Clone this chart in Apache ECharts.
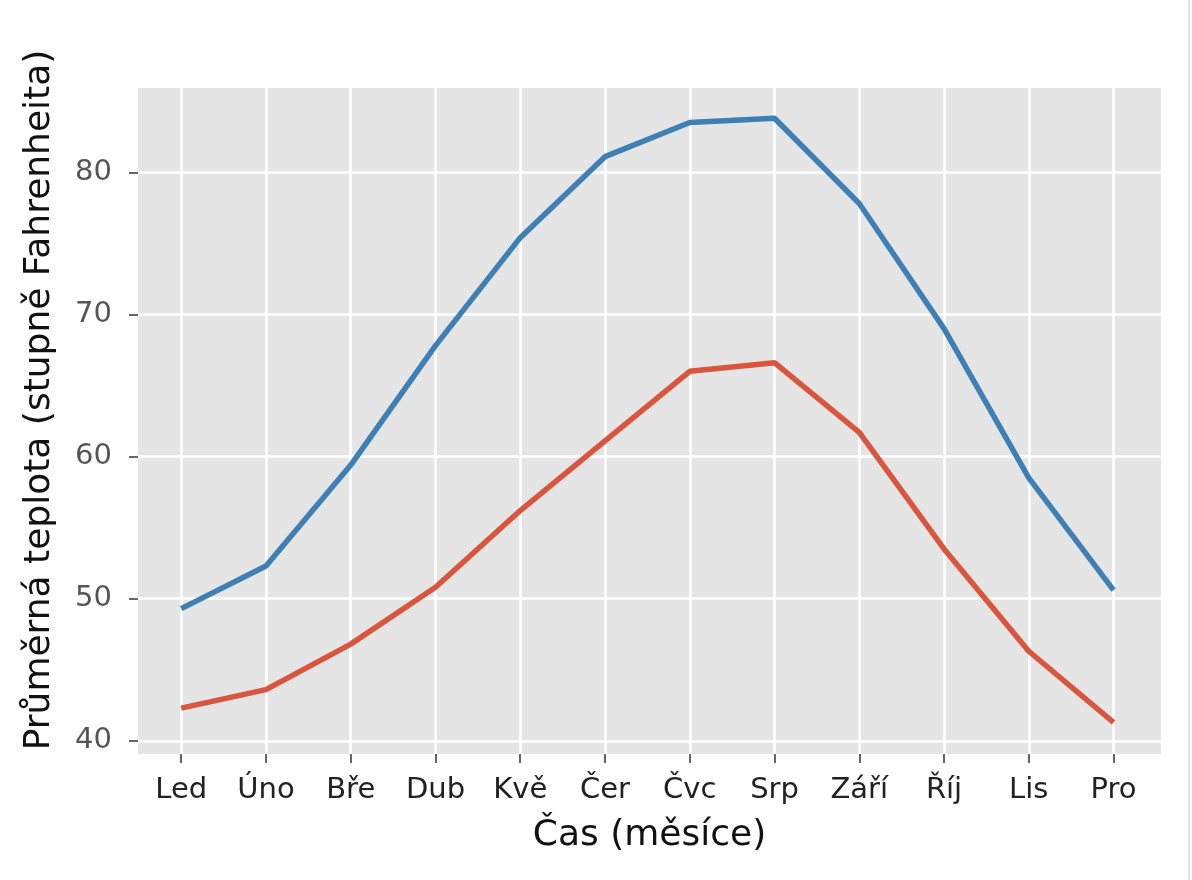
<!DOCTYPE html>
<html>
<head>
<meta charset="utf-8">
<script src="https://cdn.jsdelivr.net/npm/echarts@6/dist/echarts.min.js"></script>
<style>
html,body{margin:0;padding:0;background:#fff;}
#chart{width:1192px;height:880px;}
</style>
</head>
<body>
<div id="chart"></div>
<script>
const months = ['Led','Úno','Bře','Dub','Kvě','Čer','Čvc','Srp','Září','Říj','Lis','Pro'];
const highTemps = [49.3, 52.3, 59.4, 67.8, 75.4, 81.1, 83.5, 83.8, 77.8, 69.0, 58.5, 50.6];
const lowTemps = [42.3, 43.6, 46.8, 50.8, 56.2, 61.1, 66.0, 66.6, 61.7, 53.5, 46.3, 41.3];
const yTicks = [40, 50, 60, 70, 80];
const xTicks = months.map((m, i) => i);

const chart = echarts.init(document.getElementById('chart'), null, {renderer: 'canvas'});
const font = 'DejaVu Sans';
chart.setOption({
  animation: false,
  backgroundColor: '#ffffff',
  grid: {
    left: 138, right: 31, top: 88, bottom: 126,
    show: true, backgroundColor: '#E5E5E5', borderWidth: 0
  },
  xAxis: {
    type: 'value',
    min: -0.51, max: 11.56,
    name: 'Čas (měsíce)',
    nameLocation: 'middle',
    nameGap: 64,
    nameTextStyle: {fontFamily: font, fontSize: 36, color: '#111'},
    axisLine: {show: false, onZero: false},
    axisTick: {show: true, customValues: xTicks, length: 9, lineStyle: {color: '#666', width: 2}},
    axisLabel: {
      customValues: xTicks, margin: 22,
      fontFamily: font, fontSize: 29, color: '#222',
      formatter: v => months[Math.round(v)] || ''
    },
    splitLine: {show: true, lineStyle: {color: '#ffffff', width: 2.5}}
  },
  yAxis: {
    type: 'value',
    min: 39.07, max: 85.93,
    name: 'Průměrná teplota (stupně Fahrenheita)',
    nameLocation: 'middle',
    nameGap: 80,
    nameTextStyle: {fontFamily: font, fontSize: 36, color: '#111', padding: [0, 0, 0, 42]},
    axisLine: {show: false, onZero: false},
    axisTick: {show: true, customValues: yTicks, length: 9, lineStyle: {color: '#666', width: 2}},
    axisLabel: {customValues: yTicks, margin: 26, fontFamily: font, fontSize: 29, color: '#555'},
    splitLine: {show: true, lineStyle: {color: '#ffffff', width: 2.5}}
  },
  series: [
    {
      type: 'line', name: 'max',
      data: highTemps.map((v, i) => [i, v]),
      showSymbol: false, symbol: 'none',
      lineStyle: {color: '#3E7FB6', width: 5.5},
      itemStyle: {color: '#3E7FB6'}
    },
    {
      type: 'line', name: 'min',
      data: lowTemps.map((v, i) => [i, v]),
      showSymbol: false, symbol: 'none',
      lineStyle: {color: '#D9553D', width: 5.5},
      itemStyle: {color: '#D9553D'}
    }
  ],
  graphic: [{
    type: 'rect', left: 1188, top: 0,
    shape: {width: 2, height: 880},
    style: {fill: '#e4e4e4'}, silent: true
  }]
});
</script>
</body>
</html>
